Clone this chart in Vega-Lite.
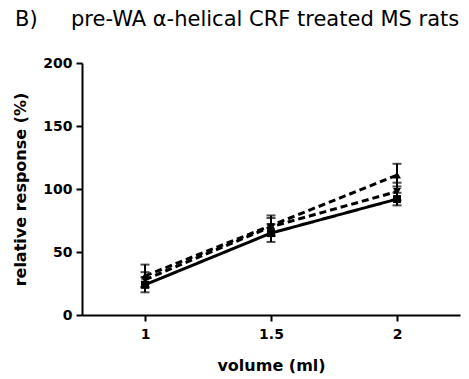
{
  "$schema": "https://vega.github.io/schema/vega-lite/v6.json",
  "autosize": {"type": "none"},
  "padding": {"left": 82, "top": 63, "right": 9, "bottom": 64},
  "width": 378,
  "height": 252,
  "background": "white",
  "title": {
    "text": "B)\u00a0\u00a0\u00a0\u00a0\u00a0pre-WA α-helical CRF treated MS rats",
    "anchor": "start",
    "frame": "group",
    "dx": -67,
    "offset": 26,
    "font": "DejaVu Sans",
    "fontSize": 21,
    "fontWeight": "normal",
    "color": "black"
  },
  "config": {
    "view": {"stroke": null},
    "axis": {
      "labelFont": "DejaVu Sans",
      "labelFontSize": 14,
      "labelFontWeight": "bold",
      "labelColor": "black",
      "titleFont": "DejaVu Sans",
      "titleFontSize": 16,
      "titleFontWeight": "bold",
      "titleColor": "black",
      "domainColor": "black",
      "domainWidth": 2,
      "tickColor": "black",
      "tickWidth": 2,
      "tickSize": 6,
      "grid": false
    }
  },
  "data": {
    "values": [
      {"volume": 1, "resp": 24, "err": 6, "series": "A"},
      {"volume": 1.5, "resp": 65, "err": 7, "series": "A"},
      {"volume": 2, "resp": 92, "err": 5, "series": "A"},
      {"volume": 1, "resp": 31, "err": 9, "series": "B"},
      {"volume": 1.5, "resp": 71, "err": 8, "series": "B"},
      {"volume": 2, "resp": 111, "err": 9, "series": "B"},
      {"volume": 1, "resp": 28, "err": 6, "series": "C"},
      {"volume": 1.5, "resp": 70, "err": 7, "series": "C"},
      {"volume": 2, "resp": 98, "err": 7, "series": "C"}
    ]
  },
  "encoding": {
    "x": {
      "field": "volume",
      "type": "quantitative",
      "scale": {"domain": [0.75, 2.25], "nice": false, "zero": false},
      "axis": {"values": [1, 1.5, 2], "format": "~g", "title": "volume (ml)", "titlePadding": 16, "labelPadding": 6}
    },
    "y": {
      "field": "resp",
      "type": "quantitative",
      "scale": {"domain": [0, 200], "nice": false},
      "axis": {"values": [0, 50, 100, 150, 200], "title": "relative response (%)", "titlePadding": 14, "labelPadding": 4}
    }
  },
  "layer": [
    {
      "mark": {"type": "errorbar", "ticks": {"size": 9, "thickness": 2, "color": "black"}, "rule": {"strokeWidth": 2, "color": "black"}},
      "encoding": {
        "y": {"field": "resp", "type": "quantitative", "title": "relative response (%)"},
        "yError": {"field": "err"},
        "detail": {"field": "series"}
      }
    },
    {
      "mark": {"type": "line", "color": "black", "strokeWidth": 3},
      "encoding": {
        "strokeDash": {
          "field": "series",
          "type": "nominal",
          "scale": {"domain": ["A", "B", "C"], "range": [[1, 0], [7, 4], [7, 4]]},
          "legend": null
        }
      }
    },
    {
      "mark": {"type": "point", "filled": true, "color": "black", "size": 64, "opacity": 1},
      "encoding": {
        "shape": {
          "field": "series",
          "type": "nominal",
          "scale": {"domain": ["A", "B", "C"], "range": ["square", "triangle-up", "triangle-down"]},
          "legend": null
        }
      }
    }
  ]
}
